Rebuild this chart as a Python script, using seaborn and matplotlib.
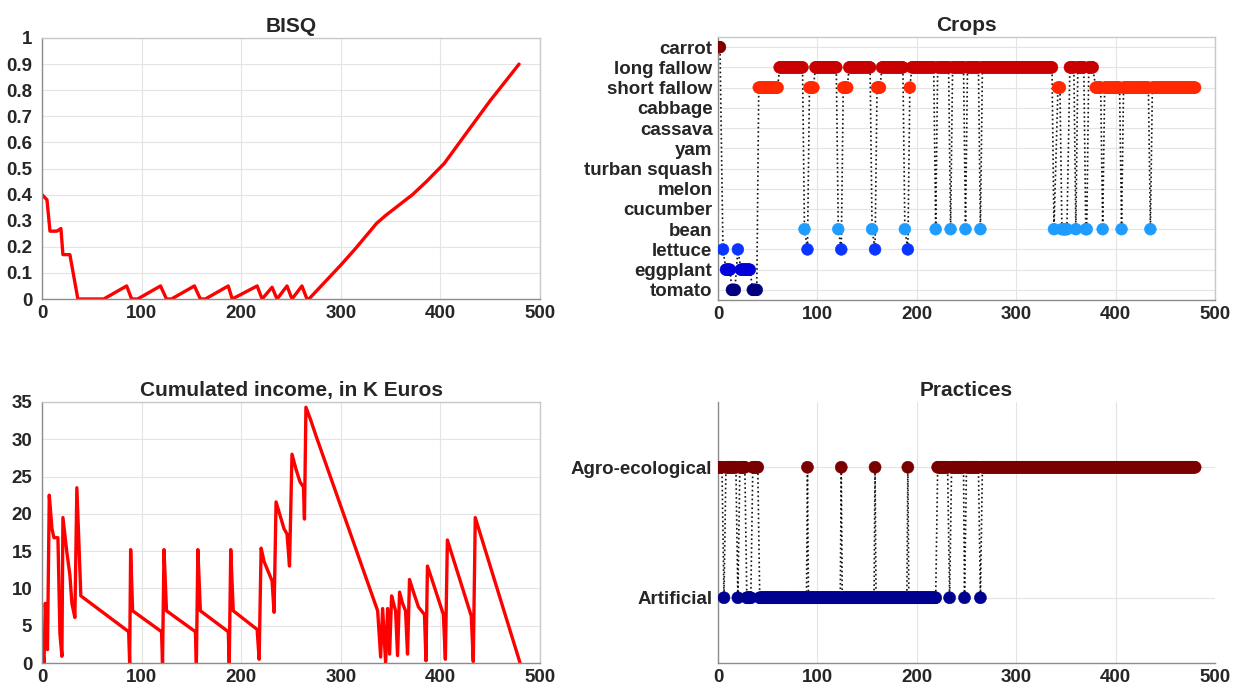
import numpy as np
import pandas as pd
import matplotlib
matplotlib.use('Agg')
import matplotlib.pyplot as plt
import seaborn as sns

# BISQ trajectory (vertices)
bisq_t = [0, 5, 8, 15, 19, 21, 28, 36, 62, 85, 90, 96, 119, 125, 130, 153, 159, 164,
          187, 191, 216, 221, 231, 236, 246, 251, 261, 266, 268, 300, 314, 336, 345,
          372, 386, 404, 425, 450, 479]
bisq_v = [0.40, 0.38, 0.26, 0.26, 0.27, 0.17, 0.17, 0.0, 0.0, 0.05, 0.0, 0.0, 0.05, 0.0,
          0.0, 0.05, 0.0, 0.0, 0.05, 0.0, 0.05, 0.0, 0.045, 0.0, 0.05, 0.0, 0.05, 0.0,
          0.0, 0.13, 0.19, 0.29, 0.32, 0.40, 0.45, 0.52, 0.63, 0.76, 0.90]

# Cumulated income, K Euros
income_t = [0, 2, 3.3, 5.5, 7.3, 10, 12, 16, 18, 20, 21, 25, 28, 30, 33, 35, 39,
            87, 88, 89, 91, 120, 121, 122.5, 125, 154, 155, 156.5, 159, 187, 188, 189.5, 192,
            216, 218, 220, 223, 227, 231, 233, 235, 239, 243, 246, 248.5, 251, 255, 259,
            262.5, 263.5, 265, 270, 275, 337, 340, 342, 345, 347, 349, 351, 353, 355, 357,
            359, 362, 365, 367, 369, 373, 378, 384, 385.5, 387, 392, 403, 405, 407, 431,
            433, 435, 480]
income_v = [2.9, 0, 8, 1.8, 22.5, 18, 16.8, 16.8, 3.9, 0.9, 19.5, 14.8, 11.8, 8, 6.1, 23.5, 9,
            4.2, 0, 15.2, 7, 4.2, 0, 15.2, 7, 4.2, 0, 15.2, 7, 4.2, 0, 15.2, 7,
            4.5, 0.5, 15.4, 13.6, 12.3, 11, 6.8, 21.6, 19.8, 18, 17.3, 13, 28, 26, 24.3,
            23.6, 19.3, 34.3, 32.5, 30.5, 7.0, 0.8, 7.3, 0.0, 7.3, 1.2, 9.0, 8.0, 7.0, 1.0,
            9.5, 8.0, 7.0, 1.2, 11.2, 9.5, 7.5, 6.5, 0.3, 13.0, 11.0, 6.5, 0.5, 16.5, 6.3,
            0.2, 19.5, 0.0]

# Crops (bottom to top)
crop_names = ['tomato', 'eggplant', 'lettuce', 'bean', 'cucumber', 'melon', 'turban squash',
              'yam', 'cassava', 'cabbage', 'short fallow', 'long fallow', 'carrot']
crop_colors = {'tomato': '#00007f', 'eggplant': '#0000d8', 'lettuce': '#0a35ff',
               'bean': '#1e9cff', 'cucumber': '#00ffff', 'melon': '#7fff7f',
               'turban squash': '#ffff00', 'yam': '#ffaa00', 'cassava': '#ff7000',
               'cabbage': '#ff5000', 'short fallow': '#ff2800', 'long fallow': '#c80000',
               'carrot': '#800000'}

crop_run_crop = ['carrot', 'lettuce', 'eggplant', 'tomato', 'lettuce', 'eggplant', 'tomato',
                 'short fallow', 'long fallow', 'bean', 'lettuce', 'short fallow',
                 'long fallow', 'bean', 'lettuce', 'short fallow', 'long fallow', 'bean',
                 'lettuce', 'short fallow', 'long fallow', 'bean', 'lettuce', 'short fallow',
                 'long fallow', 'bean', 'long fallow', 'bean', 'long fallow', 'bean',
                 'long fallow', 'bean', 'long fallow', 'bean', 'short fallow', 'bean',
                 'long fallow', 'bean', 'long fallow', 'bean', 'long fallow', 'short fallow',
                 'bean', 'short fallow', 'bean', 'short fallow', 'bean', 'short fallow']
crop_run_start = [0, 5, 8, 14, 20, 23, 35, 41, 62, 87, 90, 92, 98, 121, 124, 126, 132, 155,
                  158, 160, 165, 188, 191, 193, 195, 219, 221, 234, 236, 249, 251, 264,
                  266, 338, 342, 346, 354, 360, 362, 370, 373, 380, 387, 389, 406, 408,
                  435, 437]
crop_run_end = [2, 5, 12, 17, 20, 32, 39, 60, 85, 87, 90, 96, 119, 121, 124, 130, 153, 155,
                158, 163, 186, 188, 191, 193, 217, 219, 232, 234, 247, 249, 262, 264,
                336, 338, 344, 351, 358, 360, 368, 371, 377, 385, 387, 404, 406, 433,
                435, 480]

# Practices
practice_names = ['Artificial', 'Agro-ecological']
practice_colors = {'Artificial': '#000090', 'Agro-ecological': '#7a0000'}
practice_run_kind = ['Agro-ecological', 'Artificial', 'Agro-ecological', 'Artificial',
                     'Agro-ecological', 'Artificial', 'Agro-ecological', 'Artificial',
                     'Agro-ecological', 'Artificial', 'Agro-ecological', 'Artificial',
                     'Agro-ecological', 'Artificial', 'Agro-ecological', 'Artificial',
                     'Agro-ecological', 'Artificial', 'Agro-ecological', 'Artificial',
                     'Agro-ecological', 'Artificial', 'Agro-ecological']
practice_run_start = [0, 6, 8, 20, 22, 29, 35, 42, 90, 91, 124, 125, 158, 159, 191, 192,
                      221, 233, 235, 248, 250, 264, 266]
practice_run_end = [4, 6, 18, 20, 27, 33, 40, 89, 90, 123, 124, 157, 158, 190, 191, 219,
                    231, 233, 247, 248, 262, 264, 480]


def expand_runs(kinds, starts, ends, order):
    rows = []
    for kind, s, e in zip(kinds, starts, ends):
        for t in range(s, e + 1):
            rows.append({'t': t, 'kind': kind, 'level': order.index(kind) + 1})
    return pd.DataFrame(rows)


crops_df = expand_runs(crop_run_crop, crop_run_start, crop_run_end, crop_names)
practices_df = expand_runs(practice_run_kind, practice_run_start, practice_run_end, practice_names)
bisq_df = pd.DataFrame({'t': bisq_t, 'value': bisq_v})
income_df = pd.DataFrame({'t': income_t, 'value': income_v})

sns.set_style('white')
plt.rcParams['font.family'] = ['Liberation Sans', 'DejaVu Sans']
plt.rcParams['font.weight'] = 'bold'

text_color = '#262626'
fig = plt.figure(figsize=(12.35, 6.88), dpi=100)

W, H = 1235.0, 688.0


def make_axes(left, top, right, bottom):
    return fig.add_axes([left / W, 1 - bottom / H, (right - left) / W, (bottom - top) / H])


ax_bisq = make_axes(42, 38, 540, 299)
ax_crops = make_axes(718, 37, 1215, 300)
ax_income = make_axes(42, 402, 540, 663)
ax_pract = make_axes(718, 402, 1215, 663)


def style_axes(ax, title, box=True, ypad=7):
    ax.set_xlim(0, 500)
    ax.set_xticks(range(0, 501, 100))
    ax.grid(True, color='#e4e4e4', linewidth=0.8)
    ax.set_axisbelow(True)
    for side in ['left', 'bottom']:
        ax.spines[side].set_color('#8c8c8c')
        ax.spines[side].set_linewidth(1.0)
    for side in ['top', 'right']:
        ax.spines[side].set_visible(box)
        ax.spines[side].set_color('#c8c8c8')
        ax.spines[side].set_linewidth(1.0)
    ax.tick_params(axis='both', direction='in', length=4, color='#8c8c8c',
                   labelsize=13.5, labelcolor=text_color)
    ax.tick_params(axis='y', pad=ypad)
    ax.tick_params(axis='x', pad=4)
    for lab in ax.get_xticklabels() + ax.get_yticklabels():
        lab.set_fontweight('bold')
    ax.set_title(title, fontsize=15, fontweight='bold', color=text_color, pad=4)
    ax.set_xlabel('')
    ax.set_ylabel('')


# BISQ
sns.lineplot(data=bisq_df, x='t', y='value', sort=False, estimator=None,
             color='#ff0000', linewidth=2.4, ax=ax_bisq)
ax_bisq.set_ylim(0, 1)
ax_bisq.set_yticks(np.arange(0, 1.01, 0.1))
ax_bisq.set_yticklabels(['0', '0.1', '0.2', '0.3', '0.4', '0.5', '0.6', '0.7', '0.8', '0.9', '1'])
style_axes(ax_bisq, 'BISQ')

# Income
sns.lineplot(data=income_df, x='t', y='value', sort=False, estimator=None,
             color='#ff0000', linewidth=2.4, ax=ax_income)
ax_income.set_ylim(0, 35)
ax_income.set_yticks(range(0, 36, 5))
style_axes(ax_income, 'Cumulated income, in K Euros')

# Crops
ax_crops.plot(crops_df['t'], crops_df['level'], linestyle=':', color='#111111',
              linewidth=1.2, zorder=2)
sns.scatterplot(data=crops_df, x='t', y='level', hue='kind', palette=crop_colors,
                s=72, linewidth=0.4, edgecolor=None, legend=False, zorder=3, ax=ax_crops)
ax_crops.set_ylim(0.5, 13.5)
ax_crops.set_yticks(range(1, 14))
ax_crops.set_yticklabels(crop_names)
style_axes(ax_crops, 'Crops', ypad=4)

# Practices
ax_pract.plot(practices_df['t'], practices_df['level'], linestyle=':', color='#111111',
              linewidth=1.2, zorder=2)
sns.scatterplot(data=practices_df, x='t', y='level', hue='kind', palette=practice_colors,
                s=75, linewidth=0.4, edgecolor=None, legend=False, zorder=3, ax=ax_pract)
ax_pract.set_ylim(0.5, 2.5)
ax_pract.set_yticks([1, 2])
ax_pract.set_yticklabels(practice_names)
style_axes(ax_pract, 'Practices', box=False, ypad=4)

fig.savefig('out.png', dpi=100)
